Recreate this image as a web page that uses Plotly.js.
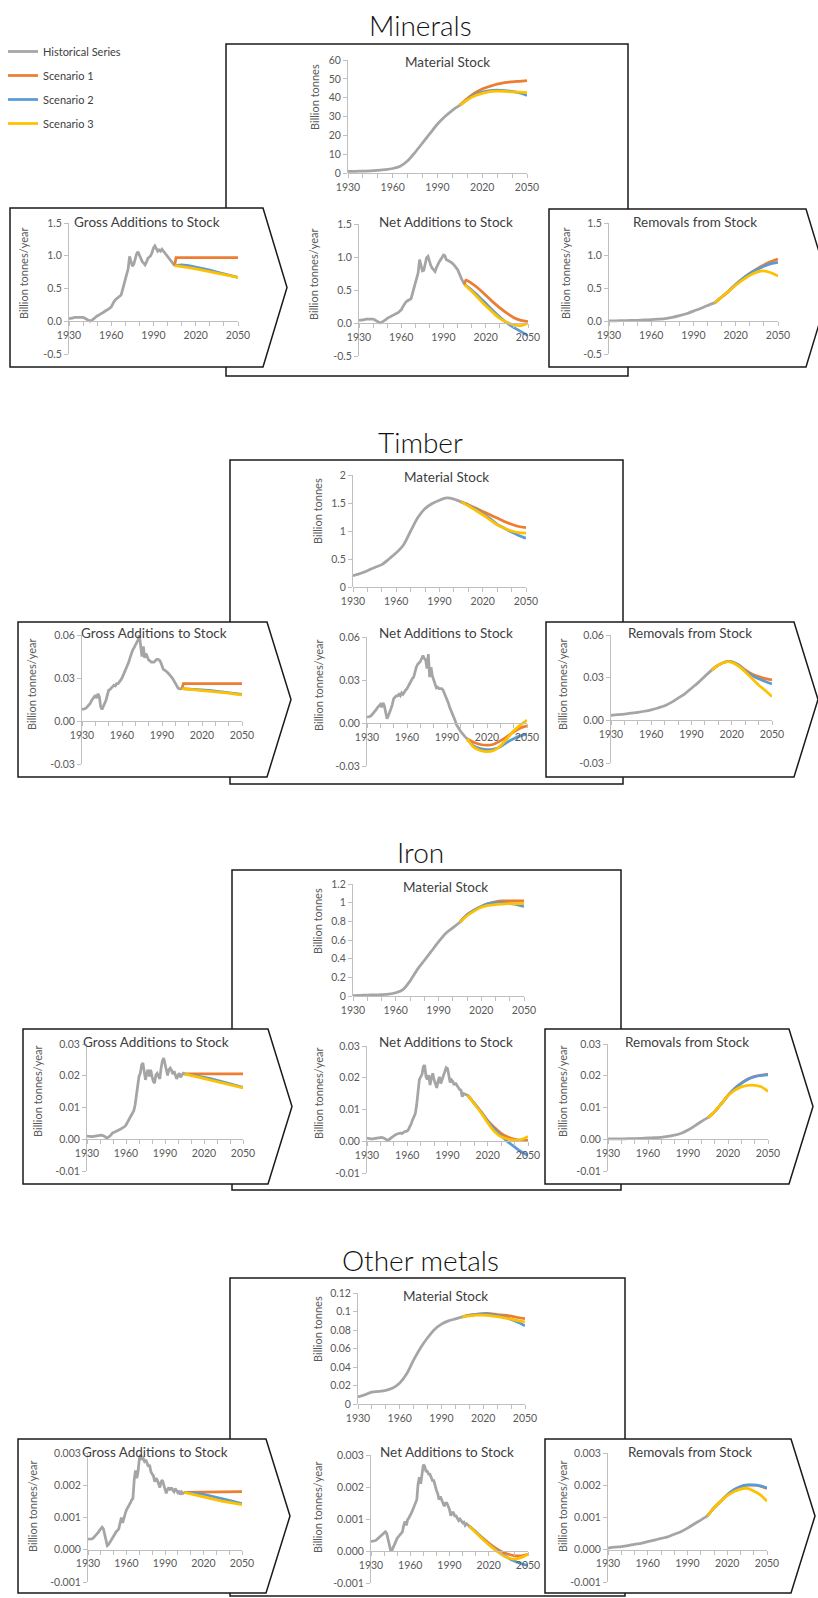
<!DOCTYPE html>
<html>
<head>
<meta charset="utf-8">
<script src="https://cdn.plot.ly/plotly-3.0.1.min.js"></script>
<style>html,body{margin:0;padding:0;background:#fff;}#chart{width:818px;height:1598px;}</style>
</head>
<body>
<div id="chart"></div>
<script>
// ---------------- DATA ----------------
const seriesNames = ['Historical Series', 'Scenario 1', 'Scenario 2', 'Scenario 3'];
const sectionNames = ['Minerals', 'Timber', 'Iron', 'Other metals'];
const panelNames = ['Material Stock', 'Gross Additions to Stock', 'Net Additions to Stock', 'Removals from Stock'];
const stockUnit = 'Billion tonnes';
const flowUnit = 'Billion tonnes/year';

const xTickYears = [1930, 1960, 1990, 2020, 2050];
const xTickLabels = ['1930', '1960', '1990', '2020', '2050'];

const yearsAnnual = [
  1930,1931,1932,1933,1934,1935,1936,1937,1938,1939,
  1940,1941,1942,1943,1944,1945,1946,1947,1948,1949,
  1950,1951,1952,1953,1954,1955,1956,1957,1958,1959,
  1960,1961,1962,1963,1964,1965,1966,1967,1968,1969,
  1970,1971,1972,1973,1974,1975,1976,1977,1978,1979,
  1980,1981,1982,1983,1984,1985,1986,1987,1988,1989,
  1990,1991,1992,1993,1994,1995,1996,1997,1998,1999,
  2000,2001,2002,2003,2004,2005];
const years5 = [1930,1935,1940,1945,1950,1955,1960,1965,1970,1975,1980,1985,1990,1995,2000,2005];
const yearsScen = [2005,2010,2015,2020,2025,2030,2035,2040,2045,2050];
const yearsStep = [2005,2006,2050];
const yearsFlat = [2005,2050];
const yearsNetS1 = [2005,2006,2010,2015,2020,2025,2030,2035,2040,2045,2050];

// Minerals
const mineralsStockTicks = [0,10,20,30,40,50,60];
const mineralsStockTickText = ['0','10','20','30','40','50','60'];
const mineralsFlowTicks = [-0.5,0,0.5,1,1.5];
const mineralsFlowTickText = ['-0.5','0.0','0.5','1.0','1.5'];
const mineralsStockHist = [0.8,0.9,1.0,1.1,1.4,1.8,2.4,3.6,6.5,11,16,21,26,30,33.3,36];
const mineralsStockS1 = [36,39.5,42.5,44.6,46,47.2,48,48.4,48.7,49];
const mineralsStockS2 = [36,39,41.5,43,43.8,44,43.8,43.3,42.5,41.2];
const mineralsStockS3 = [36,38.8,41,42.3,43.2,43.5,43.4,43.1,42.9,42.7];
const mineralsGrossHist = [
  0.04,0.04,0.05,0.05,0.06,0.06,0.06,0.07,0.07,0.06,
  0.06,0.05,0.04,0.03,0.01,0.00,0.01,0.03,0.05,0.06,
  0.08,0.09,0.11,0.12,0.13,0.15,0.16,0.17,0.18,0.20,
  0.22,0.27,0.30,0.33,0.35,0.37,0.38,0.40,0.48,0.56,
  0.64,0.72,0.80,0.99,0.93,0.84,0.87,0.97,1.03,1.06,
  1.00,0.95,0.91,0.89,0.86,0.90,0.96,0.98,1.00,1.05,
  1.12,1.15,1.10,1.07,1.09,1.07,1.10,1.07,1.04,1.02,
  0.99,0.97,0.94,0.90,0.87,0.85];
const mineralsGrossS1 = [0.85,0.97,0.97];
const mineralsGrossS2 = [0.85,0.86,0.85,0.83,0.80,0.78,0.75,0.72,0.70,0.67];
const mineralsGrossS3 = [0.85,0.84,0.82,0.80,0.78,0.76,0.73,0.71,0.69,0.67];
const mineralsNetHist = [
  0.04,0.04,0.05,0.05,0.05,0.06,0.06,0.06,0.07,0.06,
  0.06,0.05,0.04,0.03,0.01,0.00,0.01,0.02,0.04,0.05,
  0.07,0.08,0.09,0.10,0.11,0.13,0.14,0.15,0.16,0.18,
  0.20,0.24,0.28,0.31,0.33,0.34,0.35,0.37,0.45,0.53,
  0.60,0.68,0.76,0.96,0.88,0.79,0.80,0.92,0.99,1.01,
  0.93,0.87,0.83,0.80,0.78,0.84,0.90,0.93,0.96,0.99,
  1.03,1.02,0.96,0.95,0.94,0.92,0.91,0.89,0.86,0.84,
  0.81,0.76,0.70,0.66,0.62,0.58];
const mineralsNetS1 = [0.58,0.65,0.60,0.52,0.42,0.32,0.23,0.15,0.08,0.04,0.02];
const mineralsNetS2 = [0.58,0.50,0.40,0.30,0.19,0.09,0.00,-0.07,-0.13,-0.19];
const mineralsNetS3 = [0.58,0.48,0.37,0.26,0.16,0.07,0.01,-0.03,-0.04,0.00];
const mineralsRemHist = [0.005,0.007,0.01,0.012,0.015,0.02,0.025,0.032,0.04,0.06,0.085,0.115,0.155,0.195,0.24,0.28];
const mineralsRemS1 = [0.28,0.37,0.46,0.56,0.65,0.73,0.80,0.86,0.91,0.95];
const mineralsRemS2 = [0.28,0.37,0.46,0.56,0.65,0.73,0.79,0.84,0.88,0.90];
const mineralsRemS3 = [0.28,0.37,0.46,0.55,0.63,0.70,0.75,0.77,0.74,0.69];

// Timber
const timberStockTicks = [0,0.5,1,1.5,2];
const timberStockTickText = ['0','0.5','1','1.5','2'];
const timberFlowTicks = [-0.03,0,0.03,0.06];
const timberFlowTickText = ['-0.03','0.00','0.03','0.06'];
const timberStockHist = [0.2,0.24,0.29,0.35,0.4,0.5,0.61,0.75,1.0,1.24,1.4,1.49,1.55,1.59,1.57,1.52];
const timberStockS1 = [1.52,1.47,1.41,1.35,1.29,1.23,1.17,1.12,1.08,1.06];
const timberStockS2 = [1.52,1.46,1.39,1.31,1.22,1.12,1.05,0.98,0.92,0.87];
const timberStockS3 = [1.52,1.45,1.37,1.29,1.20,1.11,1.05,1.00,0.97,0.96];
const timberGrossHist = [
  0.008,0.008,0.0085,0.009,0.010,0.011,0.012,0.014,0.0156,0.017,
  0.018,0.016,0.019,0.017,0.010,0.008,0.010,0.012,0.0145,0.018,
  0.0215,0.022,0.023,0.024,0.025,0.0245,0.026,0.026,0.027,0.0285,
  0.030,0.032,0.034,0.036,0.039,0.041,0.044,0.047,0.0495,0.051,
  0.053,0.055,0.0565,0.060,0.054,0.045,0.052,0.044,0.047,0.044,
  0.0425,0.042,0.041,0.041,0.041,0.042,0.043,0.043,0.0425,0.041,
  0.039,0.036,0.0355,0.035,0.034,0.033,0.032,0.031,0.0296,0.028,
  0.026,0.025,0.023,0.0225,0.0226,0.0226];
const timberGrossS1 = [0.0226,0.026,0.026];
const timberGrossS2 = [0.0226,0.0224,0.0221,0.0217,0.0213,0.0208,0.0203,0.0198,0.0192,0.0186];
const timberGrossS3 = [0.0226,0.0222,0.0217,0.0213,0.0208,0.0204,0.0199,0.0194,0.0188,0.0182];
const timberNetHist = [
  0.004,0.004,0.0045,0.005,0.006,0.007,0.008,0.0095,0.011,0.012,
  0.013,0.011,0.014,0.012,0.006,0.003,0.005,0.007,0.010,0.013,
  0.017,0.018,0.019,0.019,0.020,0.019,0.021,0.020,0.022,0.023,
  0.024,0.026,0.027,0.029,0.031,0.032,0.036,0.039,0.041,0.042,
  0.043,0.045,0.047,0.045,0.044,0.038,0.048,0.032,0.039,0.033,
  0.030,0.027,0.0245,0.025,0.024,0.024,0.024,0.023,0.021,0.019,
  0.0167,0.014,0.011,0.009,0.007,0.005,0.002,-0.001,-0.003,-0.004,
  -0.0056,-0.007,-0.008,-0.009,-0.010,-0.011];
const timberNetS1 = [-0.011,-0.0135,-0.015,-0.0155,-0.0148,-0.0125,-0.0095,-0.0062,-0.0035,-0.002];
const timberNetS2 = [-0.011,-0.016,-0.0178,-0.0186,-0.0182,-0.0165,-0.0135,-0.011,-0.009,-0.0075];
const timberNetS3 = [-0.011,-0.0168,-0.0192,-0.020,-0.0192,-0.016,-0.011,-0.0055,-0.0015,0.002];
const timberRemHist = [0.0035,0.004,0.0044,0.005,0.0056,0.0064,0.0074,0.0087,0.0102,0.0126,0.0156,0.0186,0.0226,0.0265,0.031,0.0353];
const timberRemS1 = [0.0353,0.0388,0.041,0.0412,0.039,0.0355,0.0326,0.0307,0.0293,0.0284];
const timberRemS2 = [0.0353,0.0388,0.041,0.0412,0.039,0.0348,0.0316,0.0292,0.0273,0.0256];
const timberRemS3 = [0.0353,0.0388,0.041,0.0408,0.0382,0.0342,0.0295,0.0249,0.021,0.0167];

// Iron
const ironStockTicks = [0,0.2,0.4,0.6,0.8,1,1.2];
const ironStockTickText = ['0','0.2','0.4','0.6','0.8','1','1.2'];
const ironFlowTicks = [-0.01,0,0.01,0.02,0.03];
const ironFlowTickText = ['-0.01','0.00','0.01','0.02','0.03'];
const ironStockHist = [0.005,0.008,0.01,0.012,0.015,0.02,0.035,0.068,0.16,0.28,0.38,0.48,0.58,0.67,0.73,0.79];
const ironStockS1 = [0.79,0.87,0.92,0.96,0.99,1.01,1.02,1.02,1.02,1.02];
const ironStockS2 = [0.79,0.87,0.92,0.96,0.99,1.00,1.00,0.99,0.98,0.96];
const ironStockS3 = [0.79,0.86,0.91,0.95,0.97,0.98,0.985,0.99,0.99,0.99];
const ironGrossHist = [
  0.0010,0.0009,0.0008,0.0008,0.0008,0.0009,0.0010,0.0011,0.0012,0.0013,
  0.0014,0.0013,0.0012,0.0010,0.0008,0.0003,0.0005,0.0008,0.0012,0.0017,
  0.0021,0.0022,0.0024,0.0025,0.0026,0.0030,0.0032,0.0035,0.0037,0.0040,
  0.0045,0.0052,0.0060,0.0068,0.0077,0.0083,0.0090,0.0108,0.0142,0.0166,
  0.0198,0.0208,0.0233,0.0240,0.0219,0.0187,0.0208,0.0219,0.0198,0.0219,
  0.0198,0.0182,0.0177,0.0203,0.0208,0.0201,0.0190,0.0224,0.0247,0.0256,
  0.0237,0.0214,0.0201,0.0219,0.0224,0.0217,0.0205,0.0214,0.0198,0.0190,
  0.0201,0.0208,0.0195,0.0203,0.0208,0.0206];
const ironGrossS1 = [0.0206,0.0206];
const ironGrossS2 = [0.0206,0.0203,0.0199,0.0195,0.0191,0.0186,0.0181,0.0175,0.0169,0.0163];
const ironGrossS3 = [0.0206,0.0201,0.0196,0.0191,0.0186,0.0181,0.0176,0.0172,0.0167,0.0162];
const ironNetHist = [
  0.0010,0.0009,0.0007,0.0007,0.0007,0.0008,0.0009,0.0010,0.0011,0.0012,
  0.0013,0.0012,0.0011,0.0009,0.0007,0.0002,0.0004,0.0007,0.0011,0.0015,
  0.0019,0.0020,0.0022,0.0023,0.0024,0.0026,0.0024,0.0028,0.0030,0.0031,
  0.0032,0.0038,0.0046,0.0056,0.0068,0.0078,0.0087,0.0114,0.0160,0.0193,
  0.0203,0.0210,0.0235,0.0240,0.0203,0.0195,0.0208,0.0177,0.0200,0.0214,
  0.0193,0.0180,0.0168,0.0190,0.0203,0.0182,0.0195,0.0208,0.0225,0.0232,
  0.0229,0.0210,0.0185,0.0193,0.0188,0.0177,0.0184,0.0176,0.0168,0.0163,
  0.0161,0.0140,0.0150,0.0148,0.0147,0.0145];
const ironNetS1 = [0.0145,0.0119,0.0093,0.0065,0.0043,0.0025,0.0013,0.0006,0.0003,0.0003];
const ironNetS2 = [0.0145,0.0119,0.0092,0.0063,0.0038,0.0017,-0.0002,-0.0018,-0.0033,-0.0044];
const ironNetS3 = [0.0145,0.0118,0.0090,0.0058,0.0031,0.0014,0.0007,0.0003,0.0005,0.0015];
const ironRemHist = [0.0001,0.0001,0.0001,0.0002,0.0002,0.0003,0.0004,0.0005,0.0006,0.0009,0.0013,0.0019,0.0029,0.0042,0.0056,0.0068];
const ironRemS1 = [0.0068,0.0087,0.0112,0.0138,0.0160,0.0177,0.0190,0.0198,0.0202,0.0204];
const ironRemS2 = [0.0068,0.0087,0.0112,0.0138,0.0160,0.0176,0.0189,0.0197,0.0201,0.0203];
const ironRemS3 = [0.0068,0.0087,0.0112,0.0137,0.0154,0.0165,0.0170,0.0170,0.0165,0.0151];

// Other metals
const otherStockTicks = [0,0.02,0.04,0.06,0.08,0.1,0.12];
const otherStockTickText = ['0','0.02','0.04','0.06','0.08','0.1','0.12'];
const otherFlowTicks = [-0.001,0,0.001,0.002,0.003];
const otherFlowTickText = ['-0.001','0.000','0.001','0.002','0.003'];
const otherStockHist = [0.0075,0.01,0.0129,0.0136,0.0147,0.0172,0.0226,0.0326,0.0476,0.0609,0.0716,0.0806,0.0863,0.0899,0.092,0.0942];
const otherStockS1 = [0.0942,0.096,0.097,0.0978,0.0978,0.0967,0.096,0.0949,0.0935,0.0924];
const otherStockS2 = [0.0942,0.0958,0.097,0.0975,0.097,0.0957,0.094,0.0915,0.0885,0.0845];
const otherStockS3 = [0.0942,0.0952,0.096,0.0962,0.0956,0.0945,0.0932,0.0917,0.0902,0.0888];
const otherGrossHist = [
  0.00033,0.00033,0.00033,0.00034,0.00036,0.00040,0.00044,0.00049,0.00054,0.00060,
  0.00065,0.00070,0.00065,0.00044,0.00023,0.00013,0.00016,0.00023,0.00030,0.00037,
  0.00044,0.00050,0.00056,0.00060,0.00065,0.00083,0.00100,0.00083,0.00103,0.00112,
  0.00124,0.00130,0.00135,0.00145,0.00154,0.00159,0.00216,0.00246,0.00222,0.00242,
  0.00281,0.00295,0.00279,0.00284,0.00274,0.00279,0.00269,0.00258,0.00263,0.00242,
  0.00235,0.00229,0.00211,0.00222,0.00216,0.00201,0.00193,0.00211,0.00216,0.00201,
  0.00190,0.00175,0.00187,0.00193,0.00185,0.00193,0.00185,0.00180,0.00190,0.00185,
  0.00177,0.00183,0.00171,0.00179,0.00175,0.00178];
const otherGrossS1 = [0.00178,0.0018];
const otherGrossS2 = [0.00178,0.00177,0.00175,0.00172,0.00168,0.00164,0.00158,0.00153,0.00148,0.00143];
const otherGrossS3 = [0.00178,0.00173,0.00168,0.00164,0.00160,0.00155,0.00150,0.00147,0.00143,0.00140];
const otherNetHist = [
  0.00030,0.00030,0.00030,0.00032,0.00034,0.00038,0.00042,0.00046,0.00050,0.00054,
  0.00058,0.00060,0.00055,0.00035,0.00015,0.00002,0.00002,0.00010,0.00020,0.00030,
  0.00040,0.00045,0.00050,0.00055,0.00060,0.00080,0.00092,0.00080,0.00098,0.00104,
  0.00110,0.00120,0.00130,0.00140,0.00150,0.00160,0.00210,0.00230,0.00210,0.00240,
  0.00270,0.00265,0.00250,0.00250,0.00240,0.00240,0.00230,0.00220,0.00220,0.00200,
  0.00190,0.00180,0.00160,0.00170,0.00160,0.00150,0.00140,0.00150,0.00150,0.00140,
  0.00130,0.00110,0.00120,0.00120,0.00110,0.00110,0.00100,0.00095,0.00100,0.00095,
  0.00088,0.00090,0.00080,0.00085,0.00080,0.00078];
const otherNetS1 = [0.00078,0.0006,0.00042,0.00025,0.0001,-0.00002,-0.0001,-0.00015,-0.00015,-0.0001];
const otherNetS2 = [0.00078,0.0006,0.0004,0.00022,0.00005,-0.0001,-0.00022,-0.00032,-0.0004,-0.00045];
const otherNetS3 = [0.00078,0.00058,0.00038,0.0002,0.00003,-0.00012,-0.00022,-0.00025,-0.0002,-0.0001];
const otherRemHist = [0.00005,0.00008,0.0001,0.00013,0.00017,0.0002,0.00025,0.0003,0.00035,0.0004,0.00048,0.00056,0.00067,0.0008,0.00092,0.00105];
const otherRemS1 = [0.00105,0.0013,0.0015,0.0017,0.00185,0.00195,0.0020,0.0020,0.00197,0.0019];
const otherRemS2 = [0.00105,0.0013,0.0015,0.0017,0.00186,0.00196,0.00201,0.00201,0.00198,0.00192];
const otherRemS3 = [0.00105,0.0013,0.0015,0.00168,0.0018,0.00188,0.0019,0.00182,0.0017,0.0015];

// ---------------- LAYOUT GEOMETRY (pixels) ----------------
const W = 818, H = 1598;
const px = v => v / W;
const py = v => 1 - v / H;
const colors = ['#A5A5A5', '#ED7D31', '#5B9BD5', '#FFC000'];
const FONT = 'Lato, "Open Sans", Arial, sans-serif';
const axisGrey = '#BFBFBF';
const textGrey = '#595959';

const sections = [
  { name: sectionNames[0], title: [420, 25], box: [226, 44, 628, 376],
    left: [10, 208, 263, 287, 367], right: [549, 209, 806, 830, 367],
    panels: [
      { g: [348, 527, 60, 173], range: [0, 60], tv: mineralsStockTicks, tt: mineralsStockTickText,
        hist: [years5, mineralsStockHist, true], s: [[yearsScen, mineralsStockS1], [yearsScen, mineralsStockS2], [yearsScen, mineralsStockS3]], smooth: true,
        title: [447, 62], ytitle: [315, 97] },
      { g: [69, 238, 223, 354], range: [-0.5, 1.5], tv: mineralsFlowTicks, tt: mineralsFlowTickText,
        hist: [yearsAnnual, mineralsGrossHist, false], s: [[yearsStep, mineralsGrossS1], [yearsScen, mineralsGrossS2], [yearsScen, mineralsGrossS3]], smooth: false,
        title: [147, 222], ytitle: [24, 274] },
      { g: [359, 528, 224, 356], range: [-0.5, 1.5], tv: mineralsFlowTicks, tt: mineralsFlowTickText,
        hist: [yearsAnnual, mineralsNetHist, false], s: [[yearsNetS1, mineralsNetS1], [yearsScen, mineralsNetS2], [yearsScen, mineralsNetS3]], smooth: true,
        title: [446, 222], ytitle: [313, 275] },
      { g: [609, 778, 223, 354], range: [-0.5, 1.5], tv: mineralsFlowTicks, tt: mineralsFlowTickText,
        hist: [years5, mineralsRemHist, true], s: [[yearsScen, mineralsRemS1], [yearsScen, mineralsRemS2], [yearsScen, mineralsRemS3]], smooth: true,
        title: [695, 222], ytitle: [566, 274] }
    ] },
  { name: sectionNames[1], title: [420, 442], box: [230, 460, 623, 784],
    left: [18, 622, 267, 291, 777], right: [546, 622, 794, 818, 777],
    panels: [
      { g: [353, 526, 475, 587], range: [0, 2], tv: timberStockTicks, tt: timberStockTickText,
        hist: [years5, timberStockHist, true], s: [[yearsScen, timberStockS1], [yearsScen, timberStockS2], [yearsScen, timberStockS3]], smooth: true,
        title: [446, 477], ytitle: [317, 511] },
      { g: [82, 242, 635, 764], range: [-0.03, 0.06], tv: timberFlowTicks, tt: timberFlowTickText,
        hist: [yearsAnnual, timberGrossHist, false], s: [[yearsStep, timberGrossS1], [yearsScen, timberGrossS2], [yearsScen, timberGrossS3]], smooth: false,
        title: [154, 633], ytitle: [32, 685] },
      { g: [367, 527, 637, 766], range: [-0.03, 0.06], tv: timberFlowTicks, tt: timberFlowTickText,
        hist: [yearsAnnual, timberNetHist, false], s: [[yearsScen, timberNetS1], [yearsScen, timberNetS2], [yearsScen, timberNetS3]], smooth: true,
        title: [446, 633], ytitle: [318, 686] },
      { g: [611, 772, 635, 763], range: [-0.03, 0.06], tv: timberFlowTicks, tt: timberFlowTickText,
        hist: [years5, timberRemHist, true], s: [[yearsScen, timberRemS1], [yearsScen, timberRemS2], [yearsScen, timberRemS3]], smooth: true,
        title: [690, 633], ytitle: [563, 685] }
    ] },
  { name: sectionNames[2], title: [420, 852], box: [232, 870, 621, 1190],
    left: [23, 1029, 268, 292, 1184], right: [545, 1029, 789, 813, 1184],
    panels: [
      { g: [353, 524, 884, 996], range: [0, 1.2], tv: ironStockTicks, tt: ironStockTickText,
        hist: [years5, ironStockHist, true], s: [[yearsScen, ironStockS1], [yearsScen, ironStockS2], [yearsScen, ironStockS3]], smooth: true,
        title: [445, 887], ytitle: [317, 921] },
      { g: [87, 243, 1044, 1171], range: [-0.01, 0.03], tv: ironFlowTicks, tt: ironFlowTickText,
        hist: [yearsAnnual, ironGrossHist, false], s: [[yearsFlat, ironGrossS1], [yearsScen, ironGrossS2], [yearsScen, ironGrossS3]], smooth: false,
        title: [156, 1042], ytitle: [37, 1092] },
      { g: [367, 528, 1046, 1173], range: [-0.01, 0.03], tv: ironFlowTicks, tt: ironFlowTickText,
        hist: [yearsAnnual, ironNetHist, false], s: [[yearsScen, ironNetS1], [yearsScen, ironNetS2], [yearsScen, ironNetS3]], smooth: true,
        title: [446, 1042], ytitle: [318, 1094] },
      { g: [608, 768, 1044, 1171], range: [-0.01, 0.03], tv: ironFlowTicks, tt: ironFlowTickText,
        hist: [years5, ironRemHist, true], s: [[yearsScen, ironRemS1], [yearsScen, ironRemS2], [yearsScen, ironRemS3]], smooth: true,
        title: [687, 1042], ytitle: [562, 1092] }
    ] },
  { name: sectionNames[3], title: [420, 1260], box: [230, 1278, 625, 1596],
    left: [18, 1439, 266, 290, 1593], right: [545, 1439, 791, 815, 1593],
    panels: [
      { g: [358, 525, 1293, 1404], range: [0, 0.12], tv: otherStockTicks, tt: otherStockTickText,
        hist: [years5, otherStockHist, true], s: [[yearsScen, otherStockS1], [yearsScen, otherStockS2], [yearsScen, otherStockS3]], smooth: true,
        title: [445, 1296], ytitle: [317, 1329] },
      { g: [88, 242, 1453, 1582], range: [-0.001, 0.003], tv: otherFlowTicks, tt: otherFlowTickText,
        hist: [yearsAnnual, otherGrossHist, false], s: [[yearsFlat, otherGrossS1], [yearsScen, otherGrossS2], [yearsScen, otherGrossS3]], smooth: false,
        title: [155, 1452], ytitle: [32, 1507] },
      { g: [371, 528, 1455, 1583], range: [-0.001, 0.003], tv: otherFlowTicks, tt: otherFlowTickText,
        hist: [yearsAnnual, otherNetHist, false], s: [[yearsScen, otherNetS1], [yearsScen, otherNetS2], [yearsScen, otherNetS3]], smooth: true,
        title: [447, 1452], ytitle: [317, 1508] },
      { g: [608, 767, 1453, 1582], range: [-0.001, 0.003], tv: otherFlowTicks, tt: otherFlowTickText,
        hist: [years5, otherRemHist, true], s: [[yearsScen, otherRemS1], [yearsScen, otherRemS2], [yearsScen, otherRemS3]], smooth: true,
        title: [690, 1452], ytitle: [562, 1507] }
    ] }
];

// ---------------- BUILD ----------------
const traces = [];
const layout = {
  width: W, height: H,
  margin: { l: 0, r: 0, t: 0, b: 0 },
  paper_bgcolor: '#ffffff',
  plot_bgcolor: 'rgba(0,0,0,0)',
  font: { family: FONT, color: textGrey },
  showlegend: true,
  legend: {
    x: px(3), y: py(37), xanchor: 'left', yanchor: 'top',
    traceorder: 'grouped', tracegroupgap: 5, itemwidth: 30,
    font: { family: FONT, size: 11, color: '#404040' },
    bgcolor: 'rgba(0,0,0,0)', borderwidth: 0
  },
  shapes: [], annotations: []
};

let idx = 0;
sections.forEach((sec, si) => {
  const b = sec.box;
  layout.shapes.push({ type: 'rect', xref: 'paper', yref: 'paper', layer: 'below',
    x0: px(b[0]), x1: px(b[2]), y0: py(b[3]), y1: py(b[1]),
    line: { color: '#1a1a1a', width: 1.5 }, fillcolor: 'rgba(0,0,0,0)' });
  const pent = p => {
    const [xl, yt, xr, xt, yb] = p;
    const ym = (yt + yb) / 2;
    return `M ${px(xl)} ${py(yt)} L ${px(xr)} ${py(yt)} L ${px(xt)} ${py(ym)} L ${px(xr)} ${py(yb)} L ${px(xl)} ${py(yb)} Z`;
  };
  [sec.left, sec.right].forEach(p => layout.shapes.push({ type: 'path', xref: 'paper', yref: 'paper', layer: 'below',
    path: pent(p), line: { color: '#1a1a1a', width: 1.5 }, fillcolor: '#ffffff' }));

  layout.annotations.push({ text: sec.name, xref: 'paper', yref: 'paper', x: px(sec.title[0]), y: py(sec.title[1]),
    xanchor: 'center', yanchor: 'middle', showarrow: false,
    font: { family: FONT, size: 28, color: '#111111', weight: 300 } });

  sec.panels.forEach((p, pi) => {
    idx += 1;
    const xa = idx === 1 ? 'xaxis' : 'xaxis' + idx;
    const ya = idx === 1 ? 'yaxis' : 'yaxis' + idx;
    const xr = idx === 1 ? 'x' : 'x' + idx;
    const yr = idx === 1 ? 'y' : 'y' + idx;
    const [x0, x1, yTop, yBot] = p.g;
    const [lo, hi] = p.range;
    const yZero = yTop + (yBot - yTop) * (hi - 0) / (hi - lo);
    layout[xa] = {
      domain: [px(x0), px(x1)], range: [1930, 2050], anchor: 'free', position: py(yZero),
      showline: true, linecolor: axisGrey, linewidth: 1, zeroline: false, showgrid: false,
      tickmode: 'array', tickvals: xTickYears, ticktext: xTickLabels,
      ticks: 'outside', ticklen: 4, tickcolor: axisGrey, tickangle: 0,
      minor: { tick0: 1930, dtick: 10, ticks: 'outside', ticklen: 4, tickcolor: axisGrey, showgrid: false },
      tickfont: { family: FONT, size: 10.5, color: textGrey }, fixedrange: true
    };
    layout[ya] = {
      domain: [py(yBot), py(yTop)], range: [lo, hi], anchor: xr,
      showline: true, linecolor: axisGrey, linewidth: 1, zeroline: false, showgrid: false,
      tickmode: 'array', tickvals: p.tv, ticktext: p.tt,
      ticks: 'outside', ticklen: 4, tickcolor: axisGrey,
      tickfont: { family: FONT, size: 10.5, color: textGrey }, fixedrange: true
    };
    const mk = (x, y, k, smooth) => ({
      type: 'scatter', mode: 'lines', x: x, y: y, xaxis: xr, yaxis: yr,
      name: seriesNames[k], legendgroup: 'g' + k, showlegend: idx === 1,
      line: { color: colors[k], width: 2.75, shape: smooth ? 'spline' : 'linear', smoothing: 0.8 },
      hoverinfo: 'skip'
    });
    traces.push(mk(p.hist[0], p.hist[1], 0, p.hist[2]));
    p.s.forEach((s, k) => traces.push(mk(s[0], s[1], k + 1, p.smooth)));

    layout.annotations.push({ text: panelNames[pi], xref: 'paper', yref: 'paper', x: px(p.title[0]), y: py(p.title[1]),
      xanchor: 'center', yanchor: 'middle', showarrow: false,
      font: { family: FONT, size: 13.5, color: '#404040' } });
    layout.annotations.push({ text: pi === 0 ? stockUnit : flowUnit, xref: 'paper', yref: 'paper',
      x: px(p.ytitle[0]), y: py(p.ytitle[1]), xanchor: 'center', yanchor: 'middle', textangle: -90, showarrow: false,
      font: { family: FONT, size: 11, color: textGrey } });
  });
});

Plotly.newPlot('chart', traces, layout, { displayModeBar: false, staticPlot: true });
</script>
</body>
</html>
